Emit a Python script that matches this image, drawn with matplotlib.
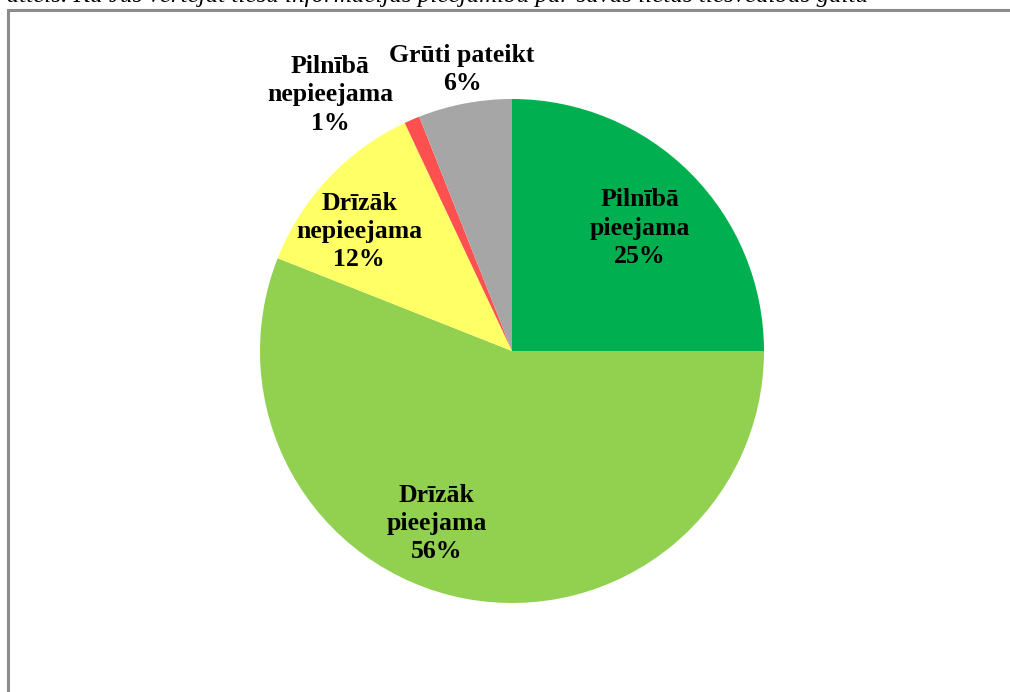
import matplotlib.pyplot as plt
from matplotlib.patches import Rectangle

# answer categories and shares (%)
labels = ["Pilnībā\npieejama", "Drīzāk\npieejama", "Drīzāk\nnepieejama",
          "Pilnībā\nnepieejama", "Grūti pateikt"]
shares = [25, 56, 12, 1, 6]
colors = ["#00B050", "#92D050", "#FFFF66", "#FF5050", "#A6A6A6"]

W, H = 1010, 692
fig = plt.figure(figsize=(W / 100, H / 100), dpi=100)
ax = fig.add_axes([0, 0, 1, 1])

cx, cy, r = 512, H - 351, 252
ax.pie(shares, colors=colors, startangle=90, counterclock=False,
       center=(cx, cy), radius=r, frame=True,
       wedgeprops=dict(linewidth=0))
ax.set_xlim(0, W)
ax.set_ylim(0, H)
ax.set_aspect('equal')
ax.axis('off')

# label positions, relative to pie centre in units of radius
label_pos = [(0.508, 0.488), (-0.298, -0.685), (-0.607, 0.476),
             (-0.722, 1.016), (-0.198, 1.117)]
for lab, val, (dx, dy) in zip(labels, shares, label_pos):
    ax.text(cx + dx * r, cy + dy * r, f"{lab}\n{val}%",
            ha='center', va='center', fontsize=18.5, fontweight='bold',
            family='Liberation Serif', linespacing=1.28)

# outer frame, running off the right and bottom edges
ax.add_patch(Rectangle((8, -20), W + 20, H - 10 + 20, fill=False,
                       edgecolor='#8C8C8C', linewidth=2.2, clip_on=False))

# caption cut off by the top edge (only its lowest part shows)
ax.text(-12, H - 2, "a attēls. Kā Jūs vērtējat tiesu informācijas pieejamību par "
        "savas lietas tiesvedības gaitu",
        ha='left', va='baseline', fontsize=18, style='italic',
        family='Liberation Serif', clip_on=False)

fig.savefig('out.png', dpi=100)
